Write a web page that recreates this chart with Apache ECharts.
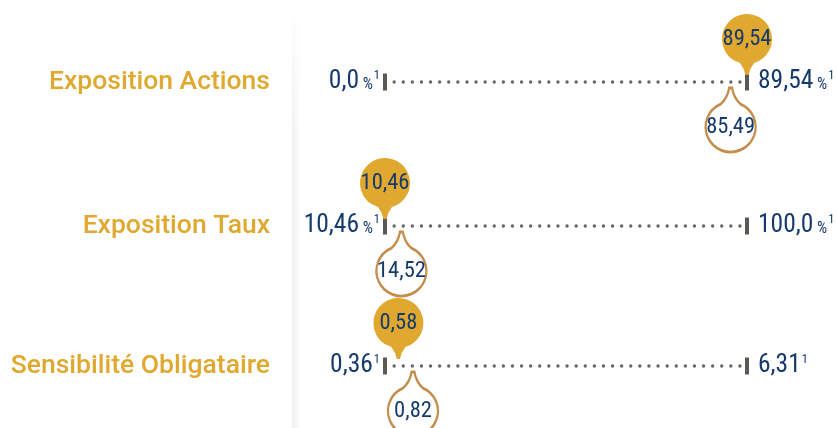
<!DOCTYPE html>
<html>
<head>
<meta charset="utf-8">
<script src="https://cdn.jsdelivr.net/npm/echarts@6/dist/echarts.min.js"></script>
<style>
  html, body { margin: 0; padding: 0; background: #fff; }
  #chart { width: 837px; height: 428px; }
</style>
</head>
<body>
<div id="chart"></div>
<script>
// rows of the gauge
const rowNames = ['Exposition Actions', 'Exposition Taux', 'Sensibilité Obligataire'];
const minValues = [0.0, 10.46, 0.36];
const maxValues = [89.54, 100.0, 6.31];
const currentValues = [89.54, 10.46, 0.58];
const previousValues = [85.49, 14.52, 0.82];
const units = ['%', '%', ''];
const footnote = '1';

const GOLD = '#e0a82e';
const NAVY = '#173a6c';
const COPPER = '#c48d4c';
const GRAY = '#5c5852';
// 'condensed' goes into the canvas font string and picks Roboto's condensed face
const NUM_FONT = 'Roboto, "DejaVu Sans Condensed", sans-serif';
const NUM_STRETCH = 'condensed';

const lineY = [82, 226, 366];

// 89.54 -> "89,54", 0 -> "0,0"
const fmt = v => {
    const s = String(v);
    const d = s.indexOf('.') < 0 ? 0 : s.length - s.indexOf('.') - 1;
    return v.toFixed(Math.max(1, d)).replace('.', ',');
};

const endLabel = (v, i) =>
    '{v|' + fmt(v) + '}' + (units[i] ? '{u| ' + units[i] + '}' : '') + '{s|' + footnote + '}';

const numStyle = (size, extra) => Object.assign({
    fontFamily: NUM_FONT, fontWeight: NUM_STRETCH, fontSize: size, color: NAVY
}, extra);

const endRich = {
    v: numStyle(25.5, { lineHeight: 26 }),
    u: numStyle(16, { lineHeight: 16, verticalAlign: 'bottom', padding: [0, 0, 2, 0] }),
    s: numStyle(12.5, { lineHeight: 13, verticalAlign: 'top', padding: [0, 0, 0, 1] })
};

// pin shapes: circle r=25 with a tail
const pinDown = 'path://M1.5,36Q3,29 7,24A25,25,0,1,0,-7,24Q-3,29 -1.5,36Z';
const pinUp = 'path://M-1.5,-39Q-3,-29 -10,-22.9A25,25,0,1,0,10,-22.9Q3,-29 1.5,-39Z';

const grid = [], xAxis = [], yAxis = [], series = [];

rowNames.forEach((name, i) => {
    grid.push({ left: 385, right: 90, top: lineY[i] - 60, height: 120 });
    xAxis.push({ gridIndex: i, type: 'value', min: minValues[i], max: maxValues[i], show: false });
    yAxis.push({
        gridIndex: i, type: 'category', data: [name],
        axisLine: { show: false }, axisTick: { show: false },
        axisLabel: {
            margin: 115, color: GOLD, fontSize: 26.5,
            fontFamily: 'Roboto, "Liberation Sans", sans-serif', fontWeight: 500
        }
    });
    const axes = { xAxisIndex: i, yAxisIndex: i };

    // dotted line between min and max
    series.push(Object.assign({
        type: 'line', silent: true, showSymbol: false, z: 1,
        data: [[minValues[i], name], [maxValues[i], name]],
        lineStyle: { color: '#6a6660', width: 3.3, type: [0.1, 9], cap: 'round' }
    }, axes));

    // end ticks with their labels
    series.push(Object.assign({
        type: 'scatter', silent: true, clip: false, z: 2,
        symbol: 'rect', symbolSize: [4, 17],
        itemStyle: { color: GRAY, opacity: 1 },
        data: [
            { value: [minValues[i], name], label: { show: true, position: 'left', distance: 3, formatter: endLabel(minValues[i], i), rich: endRich } },
            { value: [maxValues[i], name], label: { show: true, position: 'right', distance: 9, formatter: endLabel(maxValues[i], i), rich: endRich } }
        ]
    }, axes));

    // current value, filled pin above
    series.push(Object.assign({
        type: 'scatter', silent: true, clip: false, z: 4,
        symbol: pinDown, symbolSize: [50, 61], symbolOffset: [0, -37.5],
        itemStyle: { color: GOLD, opacity: 1 },
        label: Object.assign({
            show: true, position: 'inside', offset: [0, -5.5],
            formatter: p => fmt(p.value[0])
        }, numStyle(22.5)),
        data: [[currentValues[i], name]]
    }, axes));

    // previous value, outlined pin below
    series.push(Object.assign({
        type: 'scatter', silent: true, clip: false, z: 3,
        symbol: pinUp, symbolSize: [50, 64], symbolOffset: [0, 38],
        itemStyle: { color: '#fff', borderColor: COPPER, borderWidth: 2.5, opacity: 1 },
        label: Object.assign({
            show: true, position: 'inside', offset: [0, 7],
            formatter: p => fmt(p.value[0])
        }, numStyle(22.5)),
        data: [[previousValues[i], name]]
    }, axes));
});

const chart = echarts.init(document.getElementById('chart'), null, { renderer: 'canvas' });
chart.setOption({
    animation: false,
    backgroundColor: '#fff',
    graphic: [
        {
            type: 'rect', z: -10, silent: true,
            shape: { x: 292, y: 8, width: 9, height: 420 },
            style: {
                fill: new echarts.graphic.LinearGradient(0, 0, 1, 0, [
                    { offset: 0, color: 'rgba(0,0,0,0.06)' },
                    { offset: 1, color: 'rgba(0,0,0,0)' }
                ])
            }
        },
        {
            type: 'rect', z: -9, silent: true,
            shape: { x: 290, y: 0, width: 14, height: 140 },
            style: {
                fill: new echarts.graphic.LinearGradient(0, 0, 0, 1, [
                    { offset: 0, color: 'rgba(255,255,255,1)' },
                    { offset: 0.1, color: 'rgba(255,255,255,0.9)' },
                    { offset: 1, color: 'rgba(255,255,255,0)' }
                ])
            }
        }
    ],
    grid: grid,
    xAxis: xAxis,
    yAxis: yAxis,
    series: series
});
</script>
</body>
</html>
